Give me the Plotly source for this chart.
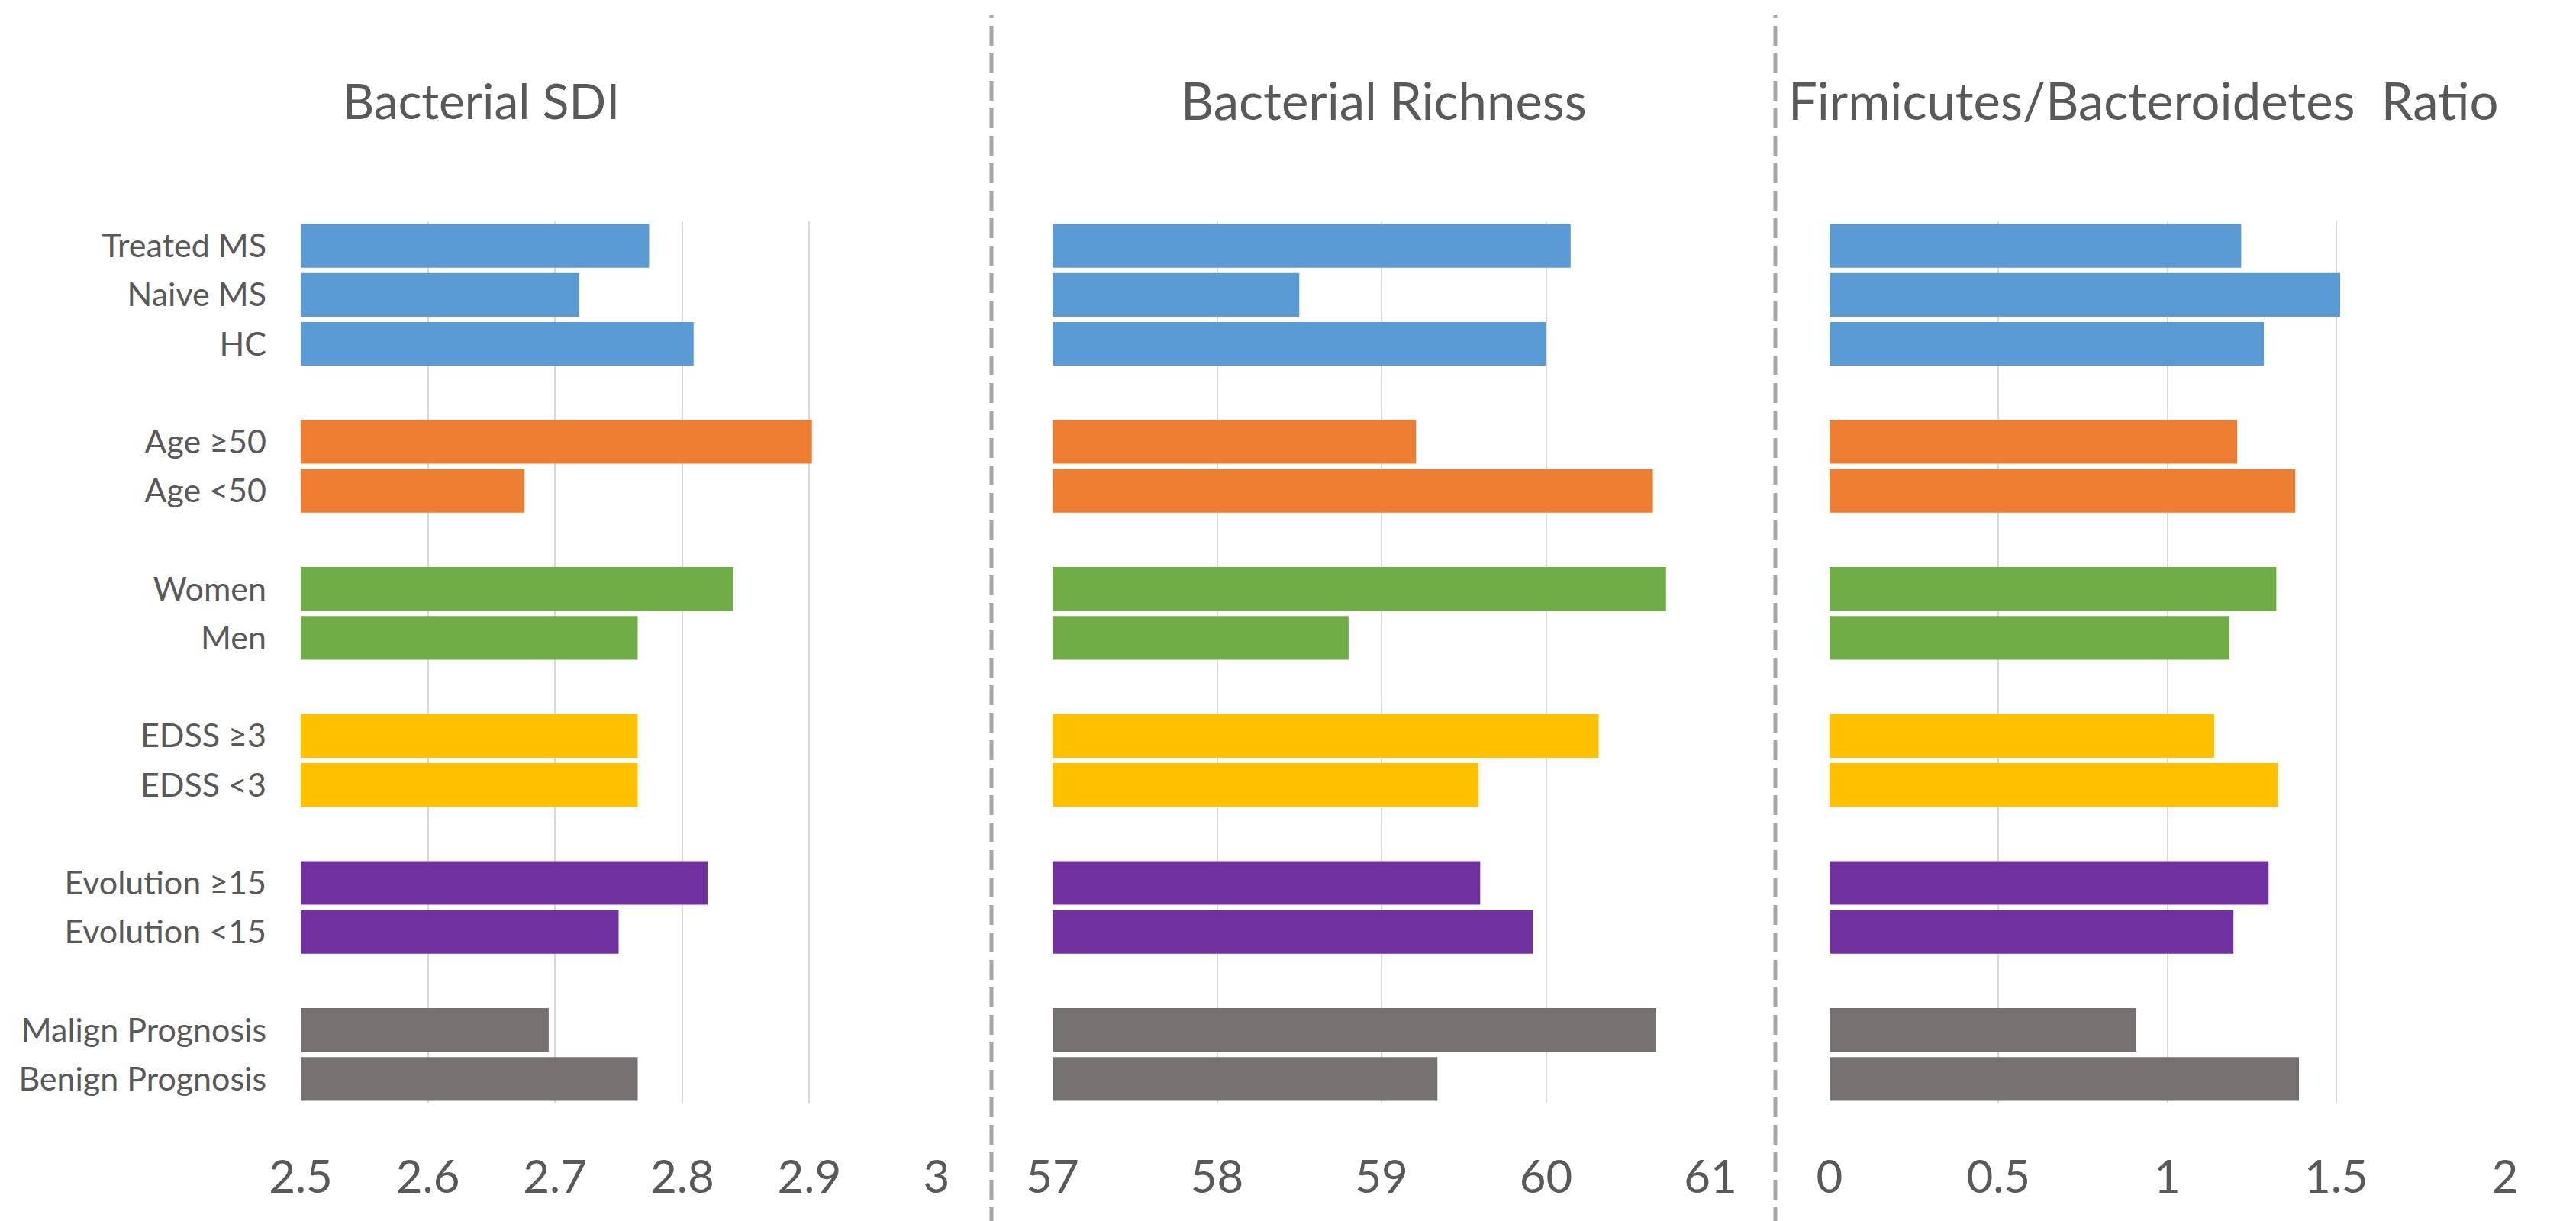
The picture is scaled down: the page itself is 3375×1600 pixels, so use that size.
import plotly.graph_objects as go

# ---------------- data ----------------
groups = [
    ["Treated MS", "Naive MS", "HC"],
    ["Age ≥50", "Age <50"],
    ["Women", "Men"],
    ["EDSS ≥3", "EDSS <3"],
    ["Evolution ≥15", "Evolution <15"],
    ["Malign Prognosis", "Benign Prognosis"],
]
group_colors = ["#5B9BD5", "#ED7D31", "#70AD47", "#FFC000", "#7030A0", "#767171"]

sdi_values = [
    [2.774, 2.719, 2.809],
    [2.902, 2.676],
    [2.840, 2.765],
    [2.765, 2.765],
    [2.820, 2.750],
    [2.695, 2.765],
]
richness_values = [
    [60.15, 58.50, 60.00],
    [59.21, 60.65],
    [60.73, 58.80],
    [60.32, 59.59],
    [59.60, 59.92],
    [60.67, 59.34],
]
fb_ratio_values = [
    [1.219, 1.512, 1.286],
    [1.207, 1.379],
    [1.323, 1.184],
    [1.139, 1.328],
    [1.300, 1.196],
    [0.908, 1.390],
]

panel_titles = ["Bacterial SDI", "Bacterial Richness", "Firmicutes/Bacteroidetes  Ratio"]
sdi_ticks = [2.5, 2.6, 2.7, 2.8, 2.9, 3.0]
sdi_ticktext = ["2.5", "2.6", "2.7", "2.8", "2.9", "3"]
rich_ticks = [57, 58, 59, 60, 61]
rich_ticktext = ["57", "58", "59", "60", "61"]
fb_ticks = [0, 0.5, 1, 1.5, 2]
fb_ticktext = ["0", "0.5", "1", "1.5", "2"]

# category order (top to bottom) with blank spacer slots between groups
category_order = []
for gi, g in enumerate(groups):
    category_order.extend(g)
    if gi < len(groups) - 1:
        category_order.append(" " * (gi + 1))

# ---------------- figure ----------------
FONT = "Lato, Liberation Sans Narrow, DejaVu Sans Condensed, sans-serif"
TXT = "#595959"
GRID = "#D9D9D9"
W, H = 3375, 1600
OFF = 8  # page body margin compensation


def px_x(v):
    return (v - OFF) / W


def px_y(v):
    return 1 - (v - OFF) / H


fig = go.Figure()

panels = [
    (sdi_values, "x", "y", [2.5, 3.0], sdi_ticks, sdi_ticktext),
    (richness_values, "x2", "y2", [57, 61], rich_ticks, rich_ticktext),
    (fb_ratio_values, "x3", "y3", [0, 2], fb_ticks, fb_ticktext),
]
for values, xa, ya, rng, tv, tt in panels:
    for g, vals, col in zip(groups, values, group_colors):
        fig.add_trace(go.Bar(
            y=g, x=vals, orientation="h", xaxis=xa, yaxis=ya,
            marker=dict(color=col, line=dict(width=0)),
            showlegend=False, hoverinfo="x+y",
        ))

domains = [[px_x(394), px_x(1227)], [px_x(1379), px_x(2241)], [px_x(2397), px_x(3282)]]
ydom = [px_y(1446), px_y(290)]

layout = dict(
    width=W, height=H,
    margin=dict(l=0, r=0, t=0, b=0, autoexpand=False),
    paper_bgcolor="white", plot_bgcolor="white",
    bargap=0.11,
    showlegend=False,
)
for i, (values, xa, ya, rng, tv, tt) in enumerate(panels):
    xk = "xaxis" if i == 0 else f"xaxis{i+1}"
    yk = "yaxis" if i == 0 else f"yaxis{i+1}"
    layout[xk] = dict(
        domain=domains[i], range=rng, anchor=ya, automargin=False,
        tickmode="array", tickvals=tv, ticktext=tt,
        showgrid=True, gridcolor=GRID, gridwidth=2,
        zeroline=False, showline=False, ticks="",
        tickfont=dict(family=FONT, size=60, color=TXT),
        ticklabelstandoff=56,
    )
    layout[yk] = dict(
        domain=ydom, anchor=xa, automargin=False,
        type="category", categoryorder="array", categoryarray=category_order,
        tickmode="array", tickvals=category_order, ticktext=category_order,
        range=[len(category_order) - 0.5, -0.5],
        showgrid=False, zeroline=False, showline=False, ticks="",
        showticklabels=(i == 0),
        tickfont=dict(family=FONT, size=43, color=TXT),
        ticklabelstandoff=44,
    )
fig.update_layout(**layout)

title_x = [px_x(630), px_x(1813), px_x(2808)]
title_size = [64, 67, 67]
for t, xp, fs in zip(panel_titles, title_x, title_size):
    fig.add_annotation(
        text=t, x=xp, y=px_y(131), xref="paper", yref="paper",
        xanchor="center", yanchor="middle", showarrow=False,
        font=dict(family=FONT, size=fs, color=TXT),
    )

for xs in [1299, 2326]:
    fig.add_shape(
        type="line", xref="paper", yref="paper",
        x0=px_x(xs), x1=px_x(xs), y0=0, y1=px_y(20),
        line=dict(color="#A6A6A6", width=5, dash="26px,10px"),
    )

fig.write_html("out.html")
